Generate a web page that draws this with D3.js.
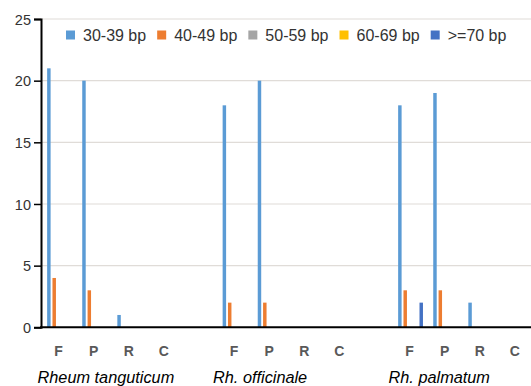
<!DOCTYPE html>
<html>
<head>
<meta charset="utf-8">
<script src="https://cdn.jsdelivr.net/npm/d3@7"></script>
<style>
  body { margin: 0; background: #fff; }
  svg text { font-family: "Liberation Sans", Arial, Helvetica, sans-serif; }
</style>
</head>
<body>
<div id="chart"></div>
<script>
// 数据
var slots = ["F1", "P1", "R1", "C1", "gap1", "F2", "P2", "R2", "C2", "gap2", "F3", "P3", "R3", "C3"];
var slotLabels = ["F", "P", "R", "C", "", "F", "P", "R", "C", "", "F", "P", "R", "C"];
var species = ["Rheum tanguticum", "Rh. officinale", "Rh. palmatum"];
var speciesFirstSlot = ["F1", "F2", "F3"];
var seriesNames = ["30-39 bp", "40-49 bp", "50-59 bp", "60-69 bp", ">=70 bp"];
var seriesColors = ["#5b9bd5", "#ed7d31", "#a5a5a5", "#ffc000", "#4472c4"];
var s30 = [21, 20, 1, 0, 0, 18, 20, 0, 0, 0, 18, 19, 2, 0];
var s40 = [4, 3, 0, 0, 0, 2, 2, 0, 0, 0, 3, 3, 0, 0];
var s50 = [0, 0, 0, 0, 0, 0, 0, 0, 0, 0, 0, 0, 0, 0];
var s60 = [0, 0, 0, 0, 0, 0, 0, 0, 0, 0, 0, 0, 0, 0];
var s70 = [0, 0, 0, 0, 0, 0, 0, 0, 0, 0, 2, 0, 0, 0];
var yTicks = [0, 5, 10, 15, 20, 25];

var allSeries = [s30, s40, s50, s60, s70];

var W = 531, H = 386;
var svg = d3.select("#chart").append("svg")
    .attr("width", W)
    .attr("height", H);

var x = d3.scaleBand()
    .domain(slots)
    .range([42, 533.4])
    .paddingInner(0)
    .paddingOuter(0);

var xInner = d3.scaleBand()
    .domain(d3.range(seriesNames.length))
    .range([4.2, x.bandwidth() - 4.2])
    .paddingInner(0.35)
    .paddingOuter(0.175);

var y = d3.scaleLinear()
    .domain([0, 25])
    .range([327.3, 19]);

// 网格线
svg.append("g")
    .selectAll("line")
    .data(yTicks.filter(function (d) { return d > 0; }))
    .enter()
    .append("line")
    .attr("x1", 41)
    .attr("x2", W)
    .attr("y1", function (d) { return y(d); })
    .attr("y2", function (d) { return y(d); })
    .style("stroke", "#e0dcd8")
    .style("stroke-width", "1.2px");

// 柱子
allSeries.forEach(function (vals, si) {
    svg.append("g")
        .selectAll("rect")
        .data(vals)
        .enter()
        .append("rect")
        .attr("x", function (d, i) { return x(slots[i]) + xInner(si); })
        .attr("y", function (d) { return y(d); })
        .attr("width", xInner.bandwidth())
        .attr("height", function (d) { return y(0) - y(d); })
        .style("fill", seriesColors[si]);
});

// y轴
var yAxis = d3.axisLeft(y).tickValues(yTicks).tickSize(7).tickPadding(3);
var yG = svg.append("g")
    .attr("transform", "translate(41,0)")
    .call(yAxis);
yG.select(".domain").style("stroke", "#000").style("stroke-width", "2px");
yG.selectAll(".tick line").style("stroke", "#000").style("stroke-width", "1.5px");
yG.selectAll(".tick text")
    .style("font-size", "14.5px")
    .style("fill", "#333")
    .attr("dy", "0.35em");

// x轴线
svg.append("line")
    .attr("x1", 40)
    .attr("x2", W)
    .attr("y1", y(0))
    .attr("y2", y(0))
    .style("stroke", "#000")
    .style("stroke-width", "2px");

// x标签
svg.append("g")
    .selectAll("text")
    .data(slotLabels)
    .enter()
    .append("text")
    .attr("x", function (d, i) { return x(slots[i]) + x.bandwidth() / 2 - 1; })
    .attr("y", 356)
    .attr("text-anchor", "middle")
    .text(function (d) { return d; })
    .style("font-size", "14px")
    .style("font-weight", "bold")
    .style("fill", "#595959");

// 物种标签
svg.append("g")
    .selectAll("text")
    .data(species)
    .enter()
    .append("text")
    .attr("x", function (d, i) { return x(speciesFirstSlot[i]) + x.bandwidth() / 2 - 22; })
    .attr("y", 383)
    .text(function (d) { return d; })
    .style("font-size", "16.3px")
    .style("font-style", "italic")
    .style("fill", "#000");

// 图例
var legend = svg.append("g").attr("transform", "translate(66,35)");
var lx = 0;
seriesNames.forEach(function (name, i) {
    var item = legend.append("g").attr("transform", "translate(" + lx + ",0)");
    item.append("rect")
        .attr("x", 0)
        .attr("y", -4.5)
        .attr("width", 9)
        .attr("height", 9)
        .style("fill", seriesColors[i]);
    var t = item.append("text")
        .attr("x", 17)
        .attr("y", 0)
        .attr("dy", "0.35em")
        .text(name)
        .style("font-size", "16px")
        .style("fill", "#333");
    lx += 17 + t.node().getComputedTextLength() + 11;
});
</script>
</body>
</html>
